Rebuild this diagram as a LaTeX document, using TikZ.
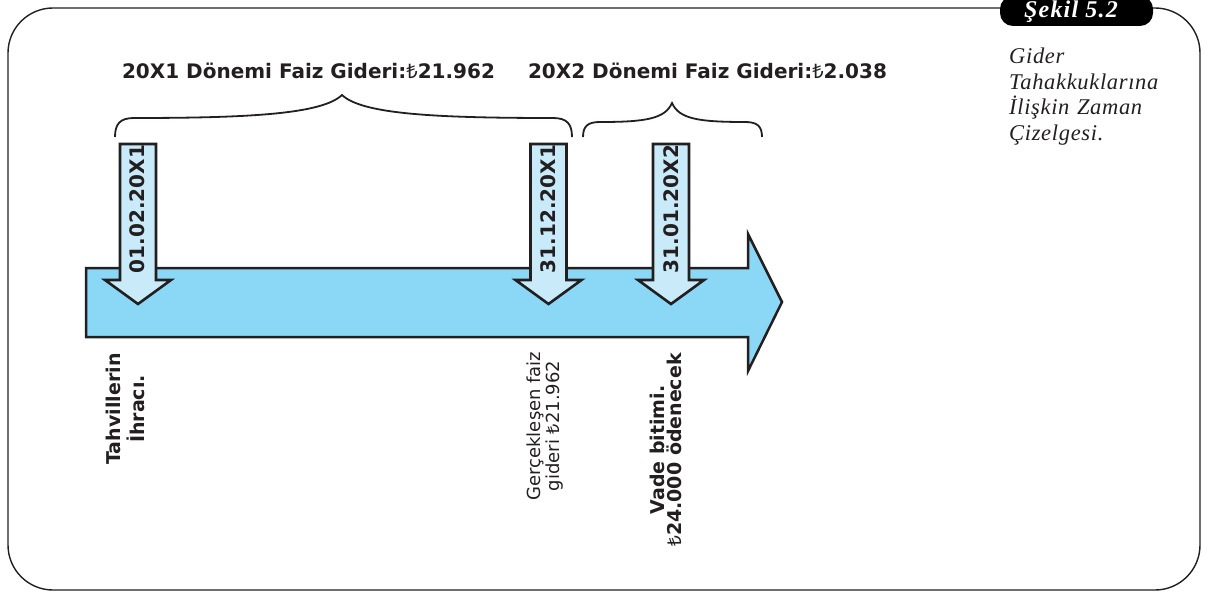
\documentclass[tikz,border=0pt]{standalone}
\usepackage{fontspec}
\setsansfont{DejaVu Sans}
\setmainfont{Liberation Serif}
\newfontfamily\lirafont{Noto Sans}
\newcommand{\TL}{{\lirafont\mdseries ₺}}
\definecolor{bigblue}{HTML}{8AD7F6}
\definecolor{smallblue}{HTML}{C8EAF9}
\definecolor{ink}{HTML}{231F20}
\tikzset{
  frame/.style={draw=ink, line width=1.4pt, rounded corners=45pt},
  pill/.style={fill=black, rounded corners=13pt, minimum width=153pt, minimum height=30pt, inner sep=0pt},
  pilltext/.style={text=white, inner sep=0pt, font=\rmfamily\bfseries\itshape\fontsize{24}{26}\selectfont\addfontfeatures{LetterSpace=5}},
  caption/.style={inner sep=0pt, text width=190pt, align=left, text=ink, font=\rmfamily\itshape\fontsize{22.5}{25.5}\selectfont\addfontfeatures{LetterSpace=3}},
  toplabel/.style={inner sep=0pt, text=ink, font=\sffamily\bfseries\fontsize{20}{24}\selectfont},
  bracestyle/.style={draw=ink, line width=1.8pt},
  bigarrow/.style={draw=ink, fill=bigblue, line width=2.5pt, line join=miter},
  smallarrow/.style={draw=ink, fill=smallblue, line width=2.6pt, line join=miter},
  datetext/.style={inner sep=0pt, rotate=90, text=ink, font=\sffamily\bfseries\fontsize{20}{24}\selectfont},
  botbold/.style={inner sep=0pt, rotate=90, align=center, text=ink, font=\sffamily\bfseries\fontsize{19}{24}\selectfont},
  botreg/.style={inner sep=0pt, rotate=90, align=center, text=ink, font=\sffamily\fontsize{18}{16.5}\selectfont},
  botbold2/.style={inner sep=0pt, rotate=90, align=center, text=ink, font=\sffamily\bfseries\fontsize{19}{17}\selectfont},
  darr/.pic={\draw[smallarrow] (-18,144) -- (18,144) -- (18,280) -- (33,280) -- (0,304) -- (-33,280) -- (-18,280) -- cycle;}
}
\begin{document}
\begin{tikzpicture}[x=1pt,y=-1pt]
\useasboundingbox (0,0) rectangle (1210,596);
% frame
\draw[frame] (8,8) rectangle (1200,590);
\node[pill] (pillbox) at (1076.5,11) {};
\node[pilltext] (sekil) at (1071,12) {Şekil 5.2};
\node[caption, anchor=base west] (cap) at (1009,64) {Gider\\Tahakkuklarına\\İlişkin Zaman\\Çizelgesi.};
% top labels
\node[toplabel, anchor=base] (lab1) at (308.5,79) {20X1 Dönemi Faiz Gideri:\TL21.962};
\node[toplabel, anchor=base] (lab2) at (707.5,79) {20X2 Dönemi Faiz Gideri:\TL2.038};
% braces
\draw[bracestyle] (115,137) .. controls (115,124) and (120,118) .. (134,118)
  .. controls (250,118) and (322,114) .. (342,95)
  .. controls (362,114) and (434,118) .. (553,118)
  .. controls (567,118) and (572,124) .. (572,137);
\draw[bracestyle] (583,137) .. controls (583,126) and (588,122) .. (600,122)
  .. controls (645,122) and (665,119) .. (672,103)
  .. controls (679,119) and (699,122) .. (745,122)
  .. controls (757,122) and (762,126) .. (762,137);
% main arrow
\draw[bigarrow] (86,268) -- (748,268) -- (748,234) -- (782,302) -- (748,371) -- (748,337) -- (86,337) -- cycle;
% small arrows
\pic at (138,0) {darr};
\pic at (548.5,0) {darr};
\pic at (671,0) {darr};
\node[datetext] (d1) at (137,209) {01.02.20X1};
\node[datetext] (d2) at (548,209) {31.12.20X1};
\node[datetext] (d3) at (671,209) {31.01.20X2};
% bottom labels
\node[botbold] (tahv) at (125,409) {Tahvillerin\\İhracı.};
\node[botreg] (gerc) at (545,426) {Gerçekleşen faiz\\gideri \TL21.962};
\node[botbold2] (vade) at (666,450) {Vade bitimi.\\\TL24.000 ödenecek};
\end{tikzpicture}
\end{document}
